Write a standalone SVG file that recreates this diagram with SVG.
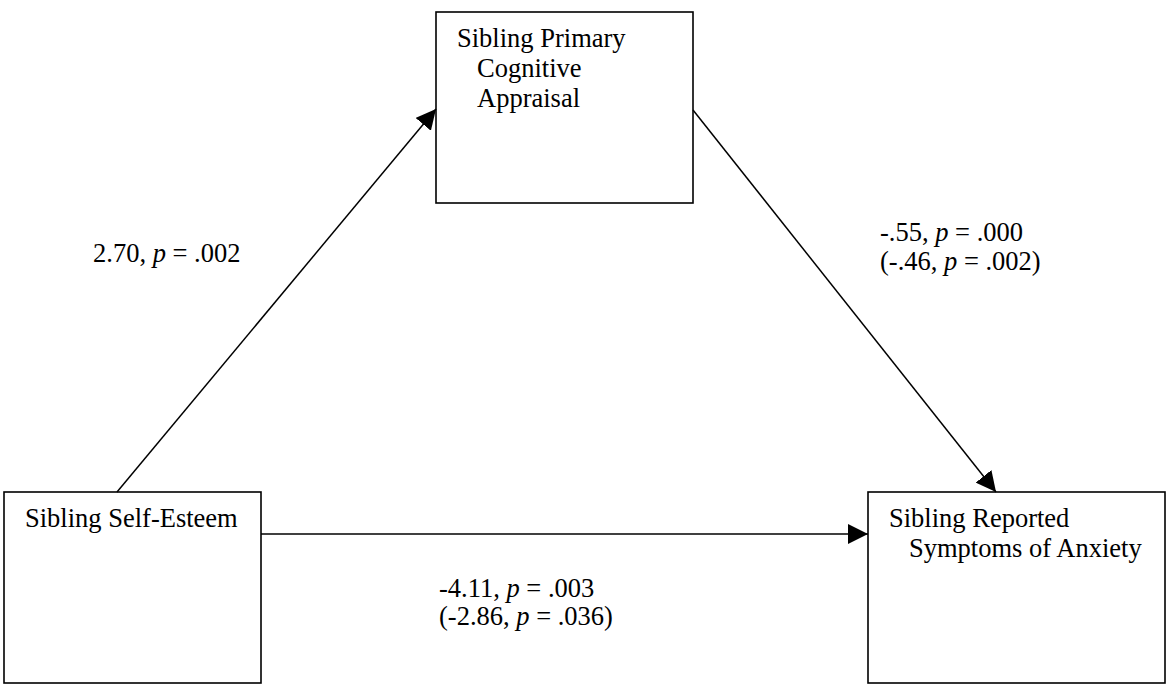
<svg xmlns="http://www.w3.org/2000/svg" width="1167" height="688" viewBox="0 0 1167 688">
  <style>
    .box { fill: #ffffff; stroke: #000000; stroke-width: 1.6; }
    .edge { stroke: #000000; stroke-width: 1.5; fill: none; }
    .t { font-family: "Liberation Serif", "Times New Roman", serif; font-size: 26.5px; fill: #000000; }
    .i { font-style: italic; }
  </style>
  <defs>
    <marker id="arrow" markerUnits="userSpaceOnUse" markerWidth="20" markerHeight="20" refX="20" refY="10" orient="auto">
      <path d="M0,0 L20,10 L0,20 z" fill="#000000"/>
    </marker>
  </defs>
  <rect width="1167" height="688" fill="#ffffff"/>

  <g id="node-appraisal">
    <rect class="box" x="436" y="12" width="257" height="191"/>
    <text class="t" x="457" y="47">Sibling Primary</text>
    <text class="t" x="477" y="77">Cognitive</text>
    <text class="t" x="477" y="107">Appraisal</text>
  </g>

  <g id="node-selfesteem">
    <rect class="box" x="4" y="492" width="257" height="191"/>
    <text class="t" x="25" y="527">Sibling Self-Esteem</text>
  </g>

  <g id="node-anxiety">
    <rect class="box" x="868" y="492" width="297" height="191"/>
    <text class="t" x="889" y="527">Sibling Reported</text>
    <text class="t" x="909" y="557">Symptoms of Anxiety</text>
  </g>

  <g id="connectors">
    <line class="edge" x1="117" y1="492" x2="436" y2="109" marker-end="url(#arrow)"/>
    <line class="edge" x1="693" y1="110" x2="996" y2="492" marker-end="url(#arrow)"/>
    <line class="edge" x1="261" y1="534" x2="868" y2="534" marker-end="url(#arrow)"/>
  </g>

  <g id="labels">
    <text class="t" x="93" y="262">2.70, <tspan class="i">p</tspan> = .002</text>
    <text class="t" x="880" y="241">-.55, <tspan class="i">p</tspan> = .000</text>
    <text class="t" x="880" y="270">(-.46, <tspan class="i">p</tspan> = .002)</text>
    <text class="t" x="439" y="597">-4.11, <tspan class="i">p</tspan> = .003</text>
    <text class="t" x="439" y="625">(-2.86, <tspan class="i">p</tspan> = .036)</text>
  </g>
</svg>
